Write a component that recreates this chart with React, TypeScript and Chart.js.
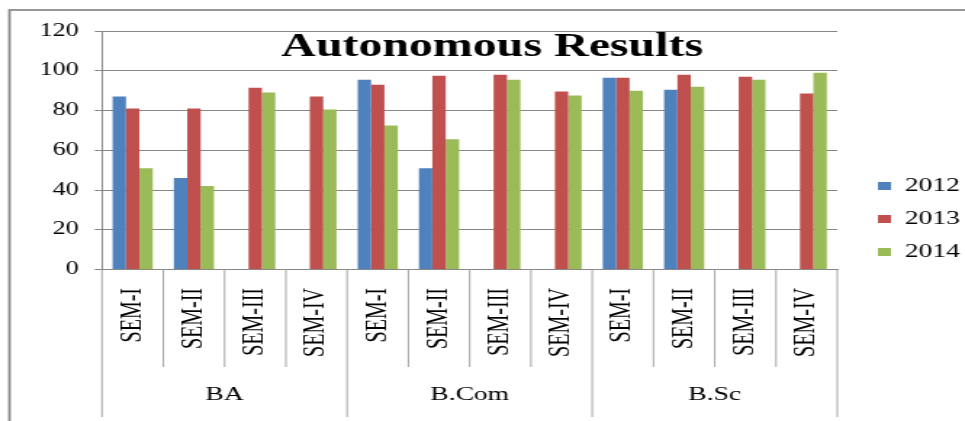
import React, { useEffect, useRef } from 'react';
import { Chart, registerables } from 'chart.js';

Chart.register(...registerables);

// ---- data ----
const semesters = ['SEM-I', 'SEM-II', 'SEM-III', 'SEM-IV'];
const programmes = ['BA', 'B.Com', 'B.Sc'];
const categories = programmes.flatMap(() => semesters);
const seriesNames = ['2012', '2013', '2014'];
const results2012 = [87, 46, null, null, 95.5, 51, null, null, 96.5, 90.5, null, null];
const results2013 = [81, 81, 91.5, 87, 93, 97.5, 98, 89.5, 96.5, 98, 97, 88.5];
const results2014 = [51, 42, 89, 80.5, 72.5, 65.5, 95.5, 87.5, 90, 92, 95.5, 99];
const yMin = 0;
const yMax = 120;
const yStep = 20;
const chartTitle = 'Autonomous Results';
const seriesColors = ['#4F81BD', '#C0504D', '#9BBB59'];

// internal drawing width; the picture is shown stretched horizontally like the original
const INNER_W = 665;
const INNER_H = 421;
const FONT = '"Liberation Serif", "Times New Roman", serif';

const framePlugin = {
  id: 'frame',
  beforeDraw(chart: any) {
    const { ctx, width, height } = chart;
    ctx.save();
    ctx.fillStyle = '#ffffff';
    ctx.fillRect(0, 0, width, height);
    ctx.strokeStyle = '#8c8c8c';
    ctx.lineWidth = 1.8;
    ctx.strokeRect(6.5, 10, width + 40, height + 40);
    ctx.restore();
  },
};

const separatorsPlugin = {
  id: 'separators',
  afterDraw(chart: any) {
    const { ctx } = chart;
    const x = chart.scales.x;
    const x2 = chart.scales.x2;
    const n = categories.length;
    const per = semesters.length;
    const step = x.width / n;
    ctx.save();
    ctx.strokeStyle = '#a6a6a6';
    ctx.lineWidth = 1;
    for (let i = 0; i <= n; i++) {
      const px = x.left + i * step;
      const bottom = i % per === 0 ? x2.bottom + 10 : x.bottom;
      ctx.beginPath();
      ctx.moveTo(px, x.top);
      ctx.lineTo(px, bottom);
      ctx.stroke();
    }
    ctx.restore();
  },
};

const titlePlugin = {
  id: 'insideTitle',
  afterDraw(chart: any) {
    const { ctx, chartArea } = chart;
    ctx.save();
    ctx.font = `bold 33px ${FONT}`;
    ctx.fillStyle = '#000000';
    ctx.textAlign = 'center';
    ctx.textBaseline = 'alphabetic';
    ctx.fillText(chartTitle, chart.width * 0.51, chartArea.top + 25);
    ctx.restore();
  },
};

export default function App() {
  const canvasRef = useRef<HTMLCanvasElement | null>(null);

  useEffect(() => {
    const canvas = canvasRef.current;
    if (!canvas) return;
    const chart = new Chart(canvas, {
      type: 'bar',
      data: {
        labels: categories,
        datasets: [results2012, results2013, results2014].map((d, i) => ({
          label: seriesNames[i],
          data: d,
          backgroundColor: seriesColors[i],
          borderWidth: 0,
          barPercentage: 1,
          categoryPercentage: 0.655,
          xAxisID: 'x',
          yAxisID: 'y',
        })),
      },
      options: {
        animation: false,
        responsive: false,
        devicePixelRatio: 1,
        layout: { padding: { top: 31, left: 0, right: 0, bottom: 14 } },
        plugins: {
          legend: {
            position: 'right',
            align: 'center',
            maxWidth: 74,
            labels: {
              boxWidth: 9,
              boxHeight: 8,
              padding: 14,
              color: '#000000',
              font: { family: FONT, size: 19 },
            },
          },
          title: { display: false },
          tooltip: { enabled: false },
        },
        scales: {
          x: {
            type: 'category',
            position: 'bottom',
            weight: 0,
            offset: true,
            grid: { display: false, drawTicks: false },
            border: { display: true, color: '#878787' },
            ticks: {
              autoSkip: false,
              minRotation: 90,
              maxRotation: 90,
              padding: 18.5,
              color: '#000000',
              font: { family: FONT, size: 20 },
            },
            afterFit: (s: any) => {
              s.height = 97.5;
            },
          },
          x2: {
            type: 'category',
            position: 'bottom',
            weight: 1,
            labels: programmes,
            offset: true,
            grid: { display: false, drawTicks: false },
            border: { display: false },
            ticks: {
              autoSkip: false,
              minRotation: 0,
              maxRotation: 0,
              padding: 17,
              color: '#000000',
              font: { family: FONT, size: 19 },
            },
            afterFit: (s: any) => {
              s.height = 40;
            },
          },
          y: {
            type: 'linear',
            position: 'left',
            min: yMin,
            max: yMax,
            ticks: {
              stepSize: yStep,
              padding: 11,
              color: '#000000',
              font: { family: FONT, size: 18 },
            },
            grid: { color: '#878787', lineWidth: 1, drawTicks: true, tickLength: 5 },
            border: { display: true, color: '#878787' },
            afterFit: (s: any) => {
              s.width = 70.3;
            },
          },
          gap: {
            type: 'linear',
            position: 'right',
            display: true,
            grid: { display: false, drawTicks: false },
            border: { display: false },
            ticks: { display: false },
            afterFit: (s: any) => {
              s.width = 14;
            },
          },
        },
      } as any,
      plugins: [framePlugin, separatorsPlugin, titlePlugin],
    });
    return () => chart.destroy();
  }, []);

  return (
    <div style={{ position: 'fixed', left: 0, top: 0, width: 965, height: 421, background: '#ffffff' }}>
      <canvas
        ref={canvasRef}
        width={INNER_W}
        height={INNER_H}
        style={{ display: 'block', width: '965px', height: '421px' }}
      />
    </div>
  );
}
